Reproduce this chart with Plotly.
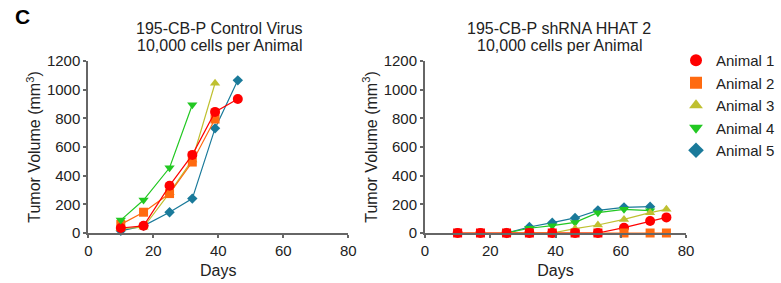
import plotly.graph_objects as go

# ---- data ----
animals = ["Animal 1", "Animal 2", "Animal 3", "Animal 4", "Animal 5"]

ctrl_days_1 = [10, 17, 25, 32, 39, 46]
ctrl_vol_1 = [35, 50, 330, 545, 845, 935]
ctrl_days_2 = [10, 17, 25, 32, 39]
ctrl_vol_2 = [60, 145, 275, 495, 795]
ctrl_days_3 = [10, 17, 25, 32, 39]
ctrl_vol_3 = [30, 40, 280, 510, 1045]
ctrl_days_4 = [10, 17, 25, 32]
ctrl_vol_4 = [90, 230, 455, 895]
ctrl_days_5 = [10, 17, 25, 32, 39, 46]
ctrl_vol_5 = [15, 50, 145, 240, 730, 1065]

sh_days = [10, 17, 25, 32, 39, 46, 53, 61, 69, 74]
sh_vol_1 = [0, 0, 0, 0, 0, 0, 0, 37, 84, 109]
sh_vol_2 = [0, 0, 0, 0, 0, 0, 0, 0, 0, 0]
sh_days_3 = [25, 32, 39, 46, 53, 61, 69, 74]
sh_vol_3 = [0, 0, 0, 30, 56, 95, 142, 165]
sh_days_45 = [25, 32, 39, 46, 53, 61, 69]
sh_vol_4 = [0, 33, 51, 74, 142, 165, 156]
sh_vol_5 = [0, 42, 72, 105, 158, 179, 184]

x_ticks = [0, 20, 40, 60, 80]
y_ticks = [0, 200, 400, 600, 800, 1000, 1200]

titles_left = ["195-CB-P Control Virus", "10,000 cells per Animal"]
titles_right = ["195-CB-P shRNA HHAT 2", "10,000 cells per Animal"]

colors = ["#FF0000", "#FF6A10", "#BFC030", "#22C822", "#1A7A9A"]
symbols = ["circle", "square", "triangle-up", "triangle-down", "diamond"]
sizes = [10, 9, 9, 9, 8]
FONT = "Arial, Liberation Sans, sans-serif"

fig = go.Figure()

ctrl = [(ctrl_days_1, ctrl_vol_1), (ctrl_days_2, ctrl_vol_2), (ctrl_days_3, ctrl_vol_3),
        (ctrl_days_4, ctrl_vol_4), (ctrl_days_5, ctrl_vol_5)]
shr = [(sh_days, sh_vol_1), (sh_days, sh_vol_2), (sh_days_3, sh_vol_3),
       (sh_days_45, sh_vol_4), (sh_days_45, sh_vol_5)]

for i in [4, 2, 1, 0, 3]:
    d, v = ctrl[i]
    fig.add_trace(go.Scatter(x=d, y=v, mode="lines+markers", name=animals[i],
                             line=dict(color=colors[i], width=1.2),
                             marker=dict(symbol=symbols[i], size=sizes[i], color=colors[i]),
                             xaxis="x", yaxis="y", showlegend=False, cliponaxis=False))
for i in [4, 3, 2, 0, 1]:
    d, v = shr[i]
    mc = colors[i]
    if i == 1:
        mc = [colors[0] if a == 0 else colors[1] for a in sh_vol_1]
    fig.add_trace(go.Scatter(x=d, y=v, mode="lines+markers", name=animals[i],
                             line=dict(color=colors[i], width=1.2),
                             marker=dict(symbol=symbols[i], size=sizes[i], color=mc),
                             xaxis="x2", yaxis="y2", showlegend=False, cliponaxis=False))

# legend entries
for i in range(5):
    fig.add_trace(go.Scatter(x=[None], y=[None], mode="markers", name=animals[i],
                             marker=dict(symbol=symbols[i], size=7, color=colors[i]),
                             xaxis="x2", yaxis="y2", showlegend=True))

ax_common = dict(showgrid=False, zeroline=False, showline=True, linecolor="#666666",
                 linewidth=2, ticks="outside", tickcolor="#666666", ticklen=3, tickwidth=2,
                 automargin=False,
                 tickfont=dict(family=FONT, size=15, color="#222"),
                 title_font=dict(family=FONT, size=16, color="#222"))

ydom = [(283 - 233) / 283, (283 - 61) / 283]
fig.update_layout(
    width=781, height=283, margin=dict(l=0, r=0, t=0, b=0, autoexpand=False),
    plot_bgcolor="white", paper_bgcolor="white",
    font=dict(family=FONT, color="#222"),
    xaxis=dict(domain=[88.3 / 781, 348.3 / 781], range=[0, 80], tickvals=x_ticks,
               title=dict(text="Days", standoff=7), anchor="y", **ax_common),
    yaxis=dict(domain=ydom, range=[0, 1200], tickvals=y_ticks,
               title=dict(text="Tumor Volume (mm<sup>3</sup>)", standoff=2), anchor="x", **ax_common),
    xaxis2=dict(domain=[425 / 781, 686 / 781], range=[0, 80], tickvals=x_ticks,
                title=dict(text="Days", standoff=7), anchor="y2", **ax_common),
    yaxis2=dict(domain=ydom, range=[0, 1200], tickvals=y_ticks,
                title=dict(text="Tumor Volume (mm<sup>3</sup>)", standoff=2), anchor="x2", **ax_common),
    legend=dict(x=676 / 781, y=1 - 44 / 283, xanchor="left", yanchor="top",
                font=dict(family=FONT, size=15, color="#222"),
                tracegroupgap=0, itemsizing="constant", bgcolor="rgba(0,0,0,0)"),
    showlegend=True,
)

fig.add_annotation(text="<b>C</b>", x=13 / 781, y=1 - 17 / 283, xref="paper", yref="paper",
                   xanchor="left", yanchor="middle", showarrow=False,
                   font=dict(family=FONT, size=21, color="#000"))
for k, (cx, lines) in enumerate([(219, titles_left), (559, titles_right)]):
    for j, t in enumerate(lines):
        fig.add_annotation(text=t, x=cx / 781, y=1 - (28 + 17 * j) / 283, xref="paper", yref="paper",
                           xanchor="center", yanchor="middle", showarrow=False,
                           font=dict(family=FONT, size=16, color="#222"))

fig.write_html("out.html", config={"displayModeBar": False},
               post_script="document.body.style.margin='0';document.body.style.overflow='hidden';")
